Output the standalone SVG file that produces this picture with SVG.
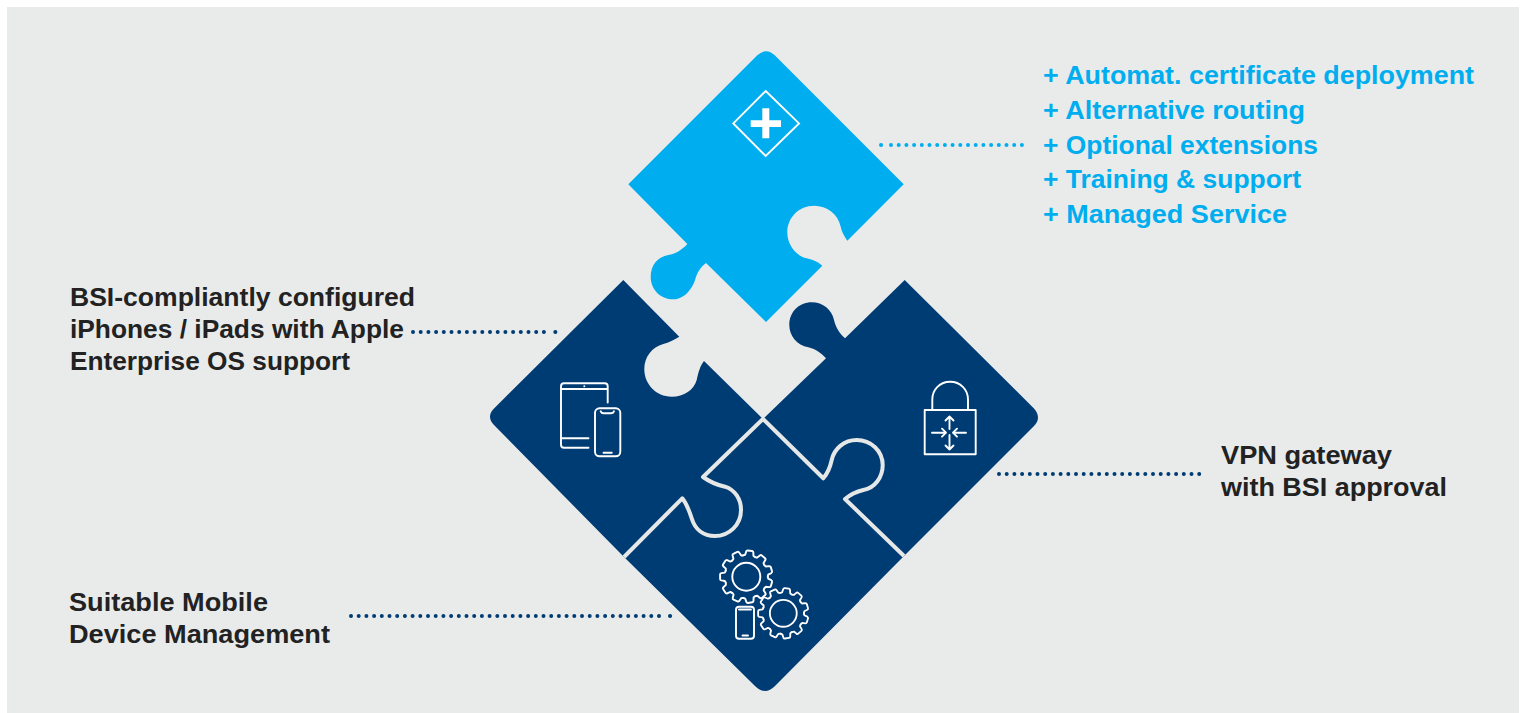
<svg xmlns="http://www.w3.org/2000/svg" xmlns:xlink="http://www.w3.org/1999/xlink" width="1523" height="713" viewBox="0 0 1523 713">
<style>
text{font-family:"Liberation Sans",Arial,sans-serif;font-weight:700;font-size:25px}
.dark{fill:#222}
.lt{fill:#00aeef}
.navy{fill:#003c74}
.sky{fill:#00aeef}
.seam{fill:none;stroke:#e6e8e8;stroke-width:4;stroke-linejoin:round}
.ic{fill:none;stroke:#fff;stroke-width:1.9;stroke-linecap:round;stroke-linejoin:round}
.dots{fill:none;stroke-width:4;stroke-linecap:round;stroke-dasharray:0 7.7}
</style>
<defs>
<path id="tooth" d="M-6.06 -20.63Q-5 -20.9 -4.2 -21.6L-3.6 -25Q-3.3 -26.2 -2.2 -26.2H2.2Q3.3 -26.2 3.6 -25L4.2 -21.6Q5 -20.9 6.06 -20.63"/>
<g id="gear" class="ic">
<circle r="14"/>
<use xlink:href="#tooth" transform="rotate(8)"/>
<use xlink:href="#tooth" transform="rotate(40.73)"/>
<use xlink:href="#tooth" transform="rotate(73.45)"/>
<use xlink:href="#tooth" transform="rotate(106.18)"/>
<use xlink:href="#tooth" transform="rotate(138.91)"/>
<use xlink:href="#tooth" transform="rotate(171.64)"/>
<use xlink:href="#tooth" transform="rotate(204.36)"/>
<use xlink:href="#tooth" transform="rotate(237.09)"/>
<use xlink:href="#tooth" transform="rotate(269.82)"/>
<use xlink:href="#tooth" transform="rotate(302.55)"/>
<use xlink:href="#tooth" transform="rotate(335.27)"/>
</g>
</defs>
<rect width="1523" height="713" fill="#fff"/>
<rect x="7" y="7" width="1512" height="706" fill="#e9ebeb"/>

<g id="connectors">
<path class="dots" stroke="#00aeef" d="M891 145H1024"/>
<path fill="none" stroke="#00aeef" stroke-width="4" stroke-linecap="round" d="M881 145H881.1"/>
<path class="dots" stroke="#003c74" d="M413 332H545"/>
<path fill="none" stroke="#003c74" stroke-width="4" stroke-linecap="round" d="M555.3 332H555.4"/>
<path class="dots" stroke="#003c74" d="M999 474H1202"/>
<path class="dots" stroke="#003c74" d="M351 616H666"/>
<path fill="none" stroke="#003c74" stroke-width="4" stroke-linecap="round" d="M670 616H670.1"/>
</g>

<g id="node-extras">
<path class="sky" d="M757 55.5Q766 47 775 55.5L903.7 184.3L847.3 240.7C843.5 235 841.5 231 840.7 226.7C838 214 827 205.7 814 205.7C799 205.7 787.3 217.5 787.3 232.3C787.3 245 796 256 806.7 258.3C813 259.5 818 262 822.3 265.7L766 322L706 263C702 266 698 271 696 276.7C693 289 684 299.3 673.3 299.3C660 299.3 650.7 289 650.7 276.7C650.7 265 658 256.5 668.3 255C675 254 682 250 687.3 244L628.3 184.3Z"/>
<path fill="none" stroke="#fff" stroke-width="1.9" d="M765.7 91L799 123.4L765.7 156L733.3 123.4Z"/>
<path fill="#fff" d="M762.3 108.3H769.3V120.3H781V127H769.3V138.3H762.3V127H750.7V120.3H762.3Z"/>
</g>

<g id="node-devices">
<path class="navy" d="M623.3 280L679.3 336.7C674 340 669 342.5 663.3 344C652 347 644.3 357 644.3 369C644.3 384 656 396.7 671.7 396.7C684 396.7 694 390 696.7 380C698.5 372 700 366 704 361L763 419L703 477C710 482 717 485 725 486.7C735 490 741 499 741 510C741 525 729 536 715 536C703 536 695 529 691.7 518.3C689 510 686 503 682.3 498.3L624 557L494 425Q486 416.7 494 408.5Z"/>
<g class="ic">
<path d="M607.7 402.5V386.3Q607.7 383.3 604.7 383.3H564Q561 383.3 561 386.3V444.7Q561 447.7 564 447.7H588.5M561 389H607.7M561 438.3H588.5"/>
<rect x="595" y="408.3" width="25.3" height="48" rx="4.5"/>
<path d="M600.7 411.3Q601.5 413.3 603.5 413.3H611Q613 413.3 614 411.3M603.5 452.8H611.8"/>
</g>
<circle cx="584.3" cy="386.2" r="1" fill="#fff"/>
</g>

<g id="node-vpn">
<path class="navy" d="M904.7 280L1034 408.5Q1042 417.7 1034 426L904 556L845 499C851 494 857 491.5 863.3 490C875 488 882.7 477 882.7 465C882.7 451 871 440 856.7 440C844 440 834 449 831.7 460C830 468 827 474 823.3 478.3L763 419L826 358.3C820 352 815 349 808.3 347.3C797 345 789.3 336 789.3 325C789.3 312 799 302.3 811.7 302.3C823 302.3 832 310 834 320C836 328 840 334 845 338.3Z"/>
<g class="ic">
<rect x="924.7" y="410" width="51" height="44.3"/>
<path d="M932.3 410V399.5C932.3 389.5 940 381.7 950.2 381.7C960.3 381.7 968 389.5 968 399.5V410"/>
<path d="M949.5 429V416.5M945.5 420.5L949.5 416.5L953.5 420.5M949.5 435V449.5M945.5 445.5L949.5 449.5L953.5 445.5M932 432.7H946M942 428.7L946 432.7L942 436.7M966 432.7H953M957 428.7L953 432.7L957 436.7"/>
</g>
</g>

<g id="node-mdm">
<path class="navy" d="M624 557L682.3 498.3C686 503 689 510 691.7 518.3C695 529 703 536 715 536C729 536 741 525 741 510C741 499 735 490 725 486.7C717 485 710 482 703 477L763 419L823.3 478.3C827 474 830 468 831.7 460C834 449 844 440 856.7 440C871 440 882.7 451 882.7 465C882.7 477 875 488 863.3 490C857 491.5 851 494 845 499L904 556L775 686Q765 696 755 686Z"/>
<path class="seam" d="M624 557L682.3 498.3C686 503 689 510 691.7 518.3C695 529 703 536 715 536C729 536 741 525 741 510C741 499 735 490 725 486.7C717 485 710 482 703 477L763 419L823.3 478.3C827 474 830 468 831.7 460C834 449 844 440 856.7 440C871 440 882.7 451 882.7 465C882.7 477 875 488 863.3 490C857 491.5 851 494 845 499L904 556"/>
<use xlink:href="#gear" transform="translate(746.3 576.7)"/>
<use xlink:href="#gear" transform="translate(783.3 613.3) scale(.96)"/>
<g class="ic">
<rect x="736" y="606.7" width="18" height="32" rx="3"/>
<path d="M739 609.5H751M742.5 635.5H748"/>
</g>
</g>

<g id="labels">
<text class="lt" x="1043" y="84" textLength="431" lengthAdjust="spacingAndGlyphs">+ Automat. certificate deployment</text>
<text class="lt" x="1043" y="119" textLength="262" lengthAdjust="spacingAndGlyphs">+ Alternative routing</text>
<text class="lt" x="1043" y="154" textLength="275" lengthAdjust="spacingAndGlyphs">+ Optional extensions</text>
<text class="lt" x="1043" y="188" textLength="258" lengthAdjust="spacingAndGlyphs">+ Training &amp; support</text>
<text class="lt" x="1043" y="223" textLength="244" lengthAdjust="spacingAndGlyphs">+ Managed Service</text>
<text class="dark" x="70" y="306" textLength="345" lengthAdjust="spacingAndGlyphs">BSI-compliantly configured</text>
<text class="dark" x="70" y="338" textLength="334" lengthAdjust="spacingAndGlyphs">iPhones / iPads with Apple</text>
<text class="dark" x="70" y="370" textLength="280" lengthAdjust="spacingAndGlyphs">Enterprise OS support</text>
<text class="dark" x="1221" y="464" textLength="171" lengthAdjust="spacingAndGlyphs">VPN gateway</text>
<text class="dark" x="1221" y="496" textLength="226" lengthAdjust="spacingAndGlyphs">with BSI approval</text>
<text class="dark" x="69" y="611" textLength="199" lengthAdjust="spacingAndGlyphs">Suitable Mobile</text>
<text class="dark" x="69" y="643" textLength="261" lengthAdjust="spacingAndGlyphs">Device Management</text>
</g>
</svg>
